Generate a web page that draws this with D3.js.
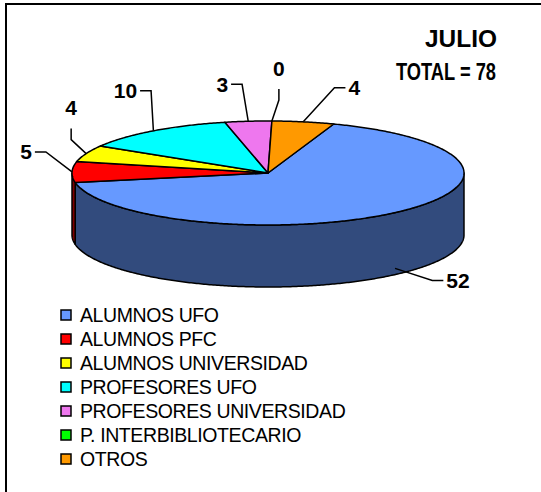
<!DOCTYPE html>
<html>
<head>
<meta charset="utf-8">
<script src="https://cdn.jsdelivr.net/npm/d3@7"></script>
<style>
  body { margin: 0; background: #fff; }
  text { font-family: Arial, "Liberation Sans", sans-serif; }
</style>
</head>
<body>
<div id="chart"></div>
<script>
// Chart data
const categories = ["ALUMNOS UFO", "ALUMNOS PFC", "ALUMNOS UNIVERSIDAD", "PROFESORES UFO",
                    "PROFESORES UNIVERSIDAD", "P. INTERBIBLIOTECARIO", "OTROS"];
const values = [52, 5, 4, 10, 3, 0, 4];
const colors = ["#6699ff", "#ff0000", "#ffff00", "#00ffff", "#ee77ee", "#00ff00", "#ff9900"];
const titleLines = ["JULIO", "TOTAL = 78"];

// label placement relative to its anchor: [dx, dy, stub direction]
const labelLayout = [[63, 12, "h"], [-46, -20, "h"], [-15, -46, "v"], [-28, -40, "h"],
                     [-26, -37, "h"], [7, -53, "v"], [51, -34, "h"]];

const width = 541, height = 492;
const cx = 268, cy = 173, rx = 196, ry = 52, depth = 62;
const firstAngle = 19.6 * Math.PI / 180;

const svg = d3.select("#chart")
              .append("svg")
              .attr("width", width)
              .attr("height", height);

// frame
svg.append("rect")
   .attr("x", 6).attr("y", 4)
   .attr("width", 560).attr("height", 520)
   .attr("fill", "#fff")
   .attr("stroke", "#000")
   .attr("stroke-width", 2);

const x = d3.scaleLinear().domain([-1, 1]).range([cx - rx, cx + rx]);
const y = d3.scaleLinear().domain([-1, 1]).range([cy - ry, cy + ry]);

const pie = d3.pie().sort(null).value(d => d.value)
              .startAngle(firstAngle).endAngle(firstAngle + 2 * Math.PI);

const slices = pie(values.map((v, i) => ({value: v, name: categories[i], color: colors[i], i: i})));

function pt(a, dz) { return [x(Math.sin(a)), y(-Math.cos(a)) + (dz || 0)]; }

function arcPts(a0, a1, dz) {
  const n = Math.max(2, Math.ceil(Math.abs(a1 - a0) / 0.01));
  return d3.range(n + 1).map(k => pt(a0 + (a1 - a0) * k / n, dz));
}

const line = d3.line();

// side walls (front half only)
const sides = svg.append("g");
slices.forEach(s => {
  [0, 1].forEach(k => {
    const lo = Math.max(s.startAngle, Math.PI / 2 + 2 * Math.PI * k);
    const hi = Math.min(s.endAngle, 3 * Math.PI / 2 + 2 * Math.PI * k);
    if (hi - lo <= 0.0001) return;
    const p = arcPts(lo, hi, 0).concat(arcPts(hi, lo, depth));
    sides.append("path")
         .attr("d", line(p) + "Z")
         .attr("fill", d3.color(s.data.color).darker(2))
         .attr("stroke", "#000")
         .attr("stroke-width", 1.5)
         .attr("stroke-linejoin", "round");
  });
});

// top faces
svg.append("g")
   .selectAll("path")
   .data(slices.filter(s => s.value > 0))
   .enter()
   .append("path")
   .attr("d", s => line([[cx, cy]].concat(arcPts(s.startAngle, s.endAngle, 0))) + "Z")
   .attr("fill", s => s.data.color)
   .attr("stroke", "#000")
   .attr("stroke-width", 1.5)
   .attr("stroke-linejoin", "round");

// data labels with leader lines
const labels = svg.append("g");
slices.forEach((s, i) => {
  const mid = (s.startAngle + s.endAngle) / 2;
  let m = mid % (2 * Math.PI);
  const front = m > Math.PI / 2 && m < 3 * Math.PI / 2;
  const a = pt(mid, front ? depth * 0.9 : 0);
  const [dx, dy, dir] = labelLayout[i];
  const tx = a[0] + dx, ty = a[1] + dy;
  const t = labels.append("text")
                  .attr("x", tx).attr("y", ty)
                  .attr("text-anchor", "middle")
                  .attr("dominant-baseline", "central")
                  .attr("font-size", 21)
                  .attr("font-weight", "bold")
                  .text(s.value);
  const w = t.node().getComputedTextLength();
  let p;
  if (dir === "h") {
    const sg = dx < 0 ? 1 : -1;
    const x0 = tx + sg * (w / 2 + 3);
    p = [[x0, ty], [x0 + sg * 11, ty], a];
  } else {
    p = [[tx, ty + 21], [tx, ty + 32], a];
  }
  labels.append("path")
        .attr("d", line(p))
        .attr("fill", "none")
        .attr("stroke", "#000")
        .attr("stroke-width", 1.5);
});

// title
svg.append("g")
   .selectAll("text")
   .data(titleLines)
   .enter()
   .append("text")
   .attr("x", (d, i) => i === 0 ? 461 : 446)
   .attr("y", (d, i) => 47 + i * 33)
   .attr("text-anchor", "middle")
   .attr("font-size", 23)
   .attr("font-weight", "bold")
   .attr("textLength", (d, i) => i === 0 ? 72 : 100)
   .attr("lengthAdjust", "spacingAndGlyphs")
   .text(d => d);

// legend
const legend = svg.append("g")
                  .selectAll("g")
                  .data(categories)
                  .enter()
                  .append("g")
                  .attr("transform", (d, i) => "translate(61," + (315 + i * 24) + ")");
legend.append("rect")
      .attr("x", 0).attr("y", -5)
      .attr("width", 10).attr("height", 10)
      .attr("fill", (d, i) => colors[i])
      .attr("stroke", "#000")
      .attr("stroke-width", 1.5);
legend.append("text")
      .attr("x", 19)
      .attr("y", 0)
      .attr("dominant-baseline", "central")
      .attr("font-size", 19.5)
      .attr("letter-spacing", -0.4)
      .text(d => d);
</script>
</body>
</html>
